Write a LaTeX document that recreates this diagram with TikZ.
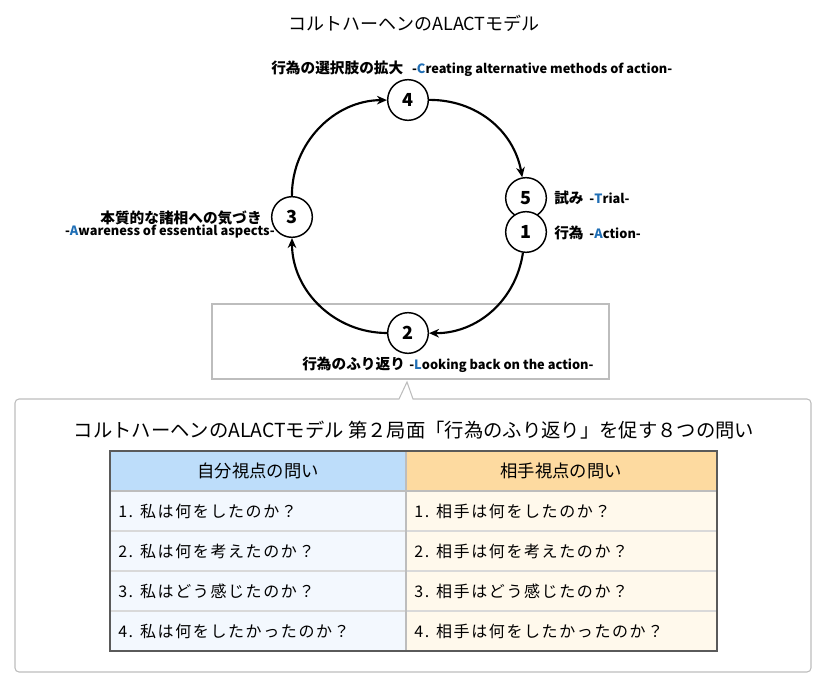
\documentclass[tikz,border=0pt]{standalone}
\usepackage{fontspec}
\setmainfont{Noto Sans CJK JP}
\newfontfamily\rowfont[LetterSpace=10]{Noto Sans CJK JP}
\usetikzlibrary{arrows.meta,positioning}

\definecolor{accent}{HTML}{1F6EB5}
\definecolor{headblue}{HTML}{BDDDFA}
\definecolor{headorange}{HTML}{FDDAA0}
\definecolor{rowblue}{HTML}{F3F8FE}
\definecolor{roworange}{HTML}{FFF9EC}
\definecolor{framegray}{HTML}{BDBDBD}
\definecolor{rulegray}{HTML}{D9D9D9}
\definecolor{bordergray}{HTML}{5A5A5A}

\newcommand{\stagesize}{30.5pt}
\newcommand{\rowheight}{40}
\newcommand{\enlabel}[1]{{\fontsize{9.6}{12}\selectfont #1}}

\begin{document}
\begin{tikzpicture}[
    x=0.75pt, y=0.75pt,
    title font/.style={font=\fontsize{13.5}{16}\selectfont},
    subtitle font/.style={font=\fontsize{14.5}{17}\selectfont},
    label font/.style={font=\fontsize{11}{13}\selectfont\bfseries, inner sep=0pt},
    number font/.style={font=\fontsize{13.5}{16}\selectfont\bfseries},
    head font/.style={font=\fontsize{13}{15}\selectfont},
    row font/.style={font=\rowfont\fontsize{12}{14}\selectfont, inner sep=0pt},
    stage/.style={circle, draw, line width=1.1pt, fill=white, minimum size=\stagesize, inner sep=0pt, number font},
    cycle arrow/.style={line width=1.6pt, -{Stealth[length=7.5pt,width=6.5pt]}}
]
\useasboundingbox (0,0) rectangle (828,683);

% TITLE
\node[title font] (title) at (414,660) {コルトハーヘンのALACTモデル};

% FRAMES
\draw[framegray, line width=0.8pt] (212,304) rectangle (609,379);
\draw[framegray, line width=0.8pt, rounded corners=3] (399,284) [sharp corners] -- (407,301) -- (413,284)
    [rounded corners=3] -- (811,284) -- (811,11) -- (15,11) -- (15,284) [sharp corners] -- cycle;

% STAGES
\node[stage] (n4) at (408,583) {4};
\node[stage] (n3) at (292,466) {3};
\node[stage] (n2) at (408,350) {2};
\node[stage] (n5) at (526,485) {5};
\node[stage] (n1) at (526,451) {1};

% Arrows
\draw[cycle arrow] (n3) to[bend left=45] (n4);
\draw[cycle arrow] (n4) to[bend left=40] (n5);
\draw[cycle arrow] (n1) to[bend left=41] (n2);
\draw[cycle arrow] (n2) to[bend left=45] (n3);

% LABELS
\node[label font, anchor=west] (label4) at (271,614) {行為の選択肢の拡大\hspace{0.6em}\enlabel{-\textcolor{accent}{C}reating alternative methods of action-}};
\node[label font, anchor=east] (label3) at (262,465) {本質的な諸相への気づき};
\node[label font, anchor=east] (label3en) at (275,451) {\enlabel{-\textcolor{accent}{A}wareness of essential aspects-}};
\node[label font, anchor=west] (label5) at (554,485) {試み\hspace{0.4em}\enlabel{-\textcolor{accent}{T}rial-}};
\node[label font, anchor=west] (label1) at (554,450) {行為\hspace{0.4em}\enlabel{-\textcolor{accent}{A}ction-}};
\node[label font, anchor=west] (label2) at (302,318) {行為のふり返り\hspace{0.3em}\enlabel{-\textcolor{accent}{L}ooking back on the action-}};

% QUESTIONS
\node[subtitle font] (subtitle) at (414,253) {コルトハーヘンのALACTモデル 第２局面「行為のふり返り」を促す８つの問い};

% Filling
\fill[headblue] (110,192) rectangle (406,232);
\fill[headorange] (406,192) rectangle (717,232);
\fill[rowblue] (110,32) rectangle (406,192);
\fill[roworange] (406,32) rectangle (717,192);

% Rules
\foreach \y in {152,112,72}
    \draw[rulegray, line width=0.8pt] (110,\y) -- (717,\y);
\draw[framegray, line width=0.8pt] (110,192) -- (717,192);
\draw[framegray, line width=0.8pt] (406,32) -- (406,232);
\draw[bordergray, line width=0.8pt] (110,32) rectangle (717,232);

\node[head font] (headself) at (258,212) {自分視点の問い};
\node[head font] (headother) at (561,212) {相手視点の問い};

\foreach \n/\q in {1/何をしたのか？, 2/何を考えたのか？, 3/どう感じたのか？, 4/何をしたかったのか？}{
    \node[row font, anchor=west] (self\n) at (118,212-\rowheight*\n) {\n. 私は\q};
    \node[row font, anchor=west] (other\n) at (414,212-\rowheight*\n) {\n. 相手は\q};
}

\end{tikzpicture}
\end{document}
